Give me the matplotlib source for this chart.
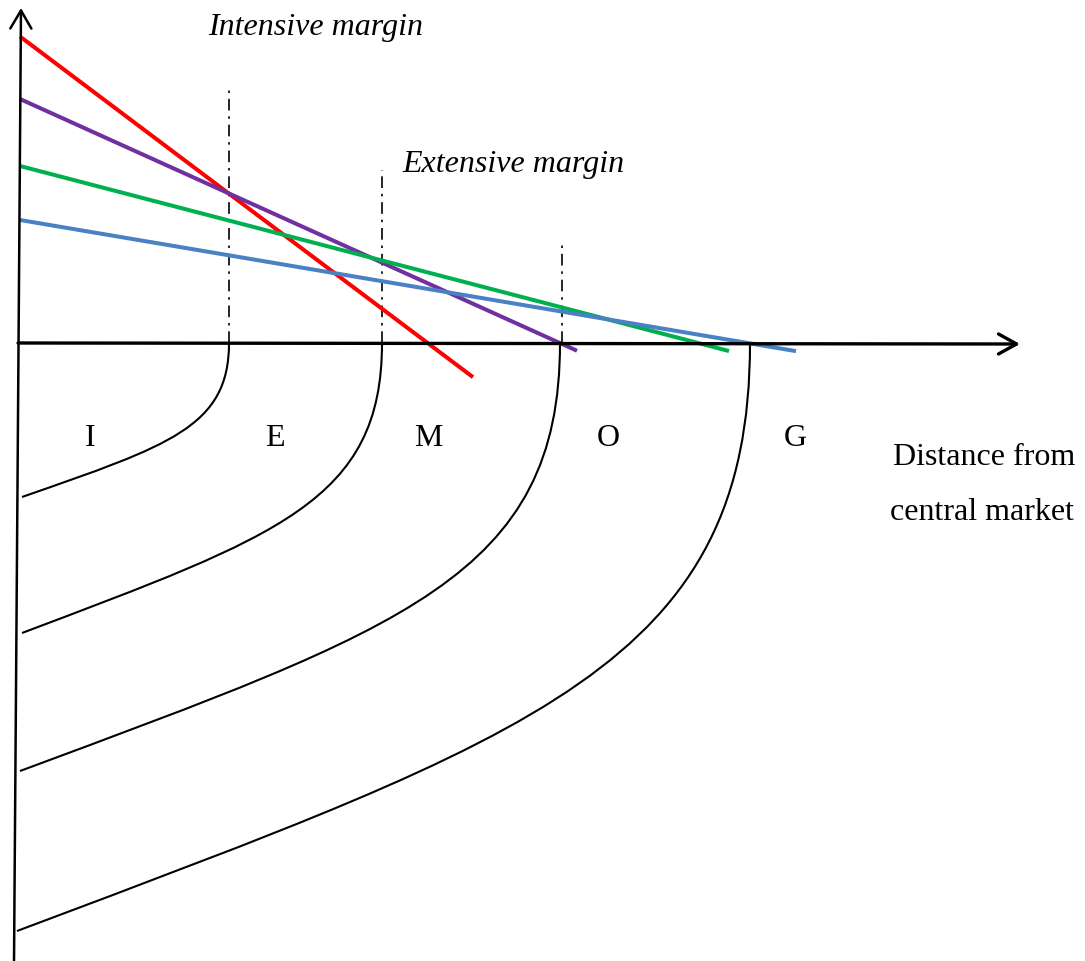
import matplotlib
matplotlib.use("Agg")
import matplotlib.pyplot as plt
from matplotlib.patches import FancyArrowPatch, PathPatch
from matplotlib.path import Path

# Demand / bid-rent lines: intercept on the vertical axis and slope
line_names = ["red", "purple", "green", "blue"]
line_intercepts = [3.065, 2.44, 1.77, 1.23]
line_slopes = [-0.752, -0.452, -0.261, -0.169]
line_x_end = [4.53, 5.57, 7.09, 7.76]
line_colors = ["#FF0000", "#7030A0", "#00B050", "#4A80C4"]

# Dash-dot boundaries between zones (x position, top of the guide)
guide_x = [2.09, 3.62, 5.42]
guide_top = [2.57, 1.73, 0.98]

# Zone boundary curves: start on the distance axis, end on the vertical axis
curve_x_top = [2.09, 3.62, 5.40, 7.30]
curve_x_end = [0.02, 0.02, 0.00, -0.03]
curve_y_end = [-1.54, -2.90, -4.28, -5.88]

# Zone labels
zone_labels = ["I", "E", "M", "O", "G"]
zone_x = [0.70, 2.55, 4.08, 5.88, 7.75]
zone_y = -1.03

SERIF = ["Liberation Serif", "DejaVu Serif"]
FS = 23

fig = plt.figure(figsize=(10.85, 9.61), dpi=100)
ax = fig.add_axes([0, 0, 1, 1])
ax.set_xlim(-0.20, 10.65)
ax.set_ylim(-6.18, 3.43)
ax.axis("off")

# Axes with open arrowheads
y_axis = FancyArrowPatch((-0.06, -6.20), (0.01, 3.35),
                         arrowstyle="->,head_length=0.65,head_width=0.38",
                         mutation_scale=20, lw=1.8, color="black",
                         shrinkA=0, shrinkB=0, zorder=5)
x_axis = FancyArrowPatch((-0.02, 0.0), (10.0, -0.01),
                         arrowstyle="->,head_length=0.65,head_width=0.36",
                         mutation_scale=20, lw=2.4, color="black",
                         shrinkA=0, shrinkB=0, zorder=5)
ax.add_patch(y_axis)
ax.add_patch(x_axis)

# Straight lines
for b, m, xe, c in zip(line_intercepts, line_slopes, line_x_end, line_colors):
    xs = [0.0, xe]
    ys = [b + m * x for x in xs]
    ax.plot(xs, ys, color=c, lw=2.9, solid_capstyle="butt", zorder=4)

# Dash-dot guides
for gx, gt in zip(guide_x, guide_top):
    ax.plot([gx, gx], [0, gt], color="black", lw=1.2,
            dashes=(7, 3.5, 1.5, 3.5), zorder=3)

# Boundary curves as cubic Bezier paths
for xt, xe, ye in zip(curve_x_top, curve_x_end, curve_y_end):
    w = xt - xe
    h = -ye
    verts = [(xt, 0.0),
             (xt, -0.545 * h),
             (xe + 0.71 * w, ye + 0.333 * h),
             (xe, ye)]
    codes = [Path.MOVETO, Path.CURVE4, Path.CURVE4, Path.CURVE4]
    ax.add_patch(PathPatch(Path(verts, codes), fill=False, lw=1.5,
                           edgecolor="black", zorder=3))

# Texts
ax.text(2.96, 3.08, "Intensive margin", family=SERIF, style="italic",
        fontsize=FS, ha="center", va="baseline")
ax.text(4.93, 1.71, "Extensive margin", family=SERIF, style="italic",
        fontsize=FS, ha="center", va="baseline")
for lab, zx in zip(zone_labels, zone_x):
    ax.text(zx, zone_y, lab, family=SERIF, fontsize=FS,
            ha="center", va="baseline")
ax.text(8.73, -1.22, "Distance from", family=SERIF, fontsize=FS,
        ha="left", va="baseline")
ax.text(8.70, -1.77, "central market", family=SERIF, fontsize=FS,
        ha="left", va="baseline")

fig.savefig("out.png", dpi=100)
